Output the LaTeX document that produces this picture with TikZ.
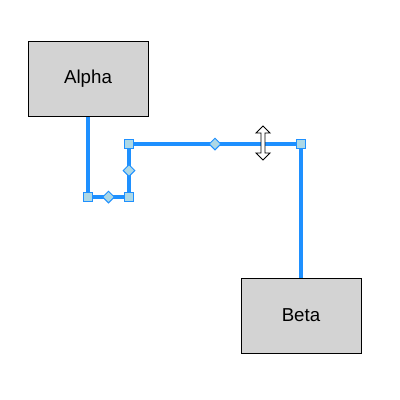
\documentclass[tikz,border=0pt]{standalone}
\usepackage{fontspec}
\setmainfont{Liberation Sans}
\usetikzlibrary{shapes.geometric}

\definecolor{linkblue}{HTML}{1E90FF}
\definecolor{handlefill}{HTML}{ADD8E6}
\definecolor{boxgray}{HTML}{D3D3D3}

\tikzset{
  block/.style={draw=black, line width=1pt, fill=boxgray, minimum width=120pt,
    minimum height=75pt, inner sep=0pt, font=\fontsize{18.7}{22}\selectfont},
  link/.style={draw=linkblue, line width=4pt},
  corner/.style={draw=linkblue, fill=handlefill, line width=1pt, minimum size=9pt, inner sep=0pt},
  midhandle/.style={diamond, draw=linkblue, fill=handlefill, line width=1pt, minimum size=12pt, inner sep=0pt}
}

\begin{document}
\begin{tikzpicture}[x=1pt,y=-1pt]
  \useasboundingbox[fill=white] (0,0) rectangle (400,400);

  \node[block] (alpha) at (88,78.5) { Alpha };
  \node[block] (beta) at (301,315.5) { Beta };

  \coordinate (b1) at (88,197);
  \coordinate (b2) at (129,197);
  \coordinate (b3) at (129,144);
  \coordinate (b4) at (301,144);

  \draw[link] (alpha.south) -- (b1) -- (b2) -- (b3) -- (b4) -- (beta.north);

  \node[corner] (h1) at (b1) {};
  \node[corner] (h2) at (b2) {};
  \node[corner] (h3) at (b3) {};
  \node[corner] (h4) at (b4) {};
  \node[midhandle] (m1) at (108.5,197) {};
  \node[midhandle] (m2) at (129,170.5) {};
  \node[midhandle] (m3) at (215,144) {};

  % resize cursor
  \draw[fill=white, line width=0.9pt, line join=miter]
    (263,126) -- (270,133) -- (265,133) -- (265,153) -- (270,153) -- (263,160)
    -- (256,153) -- (261,153) -- (261,133) -- (256,133) -- cycle;
\end{tikzpicture}
\end{document}
